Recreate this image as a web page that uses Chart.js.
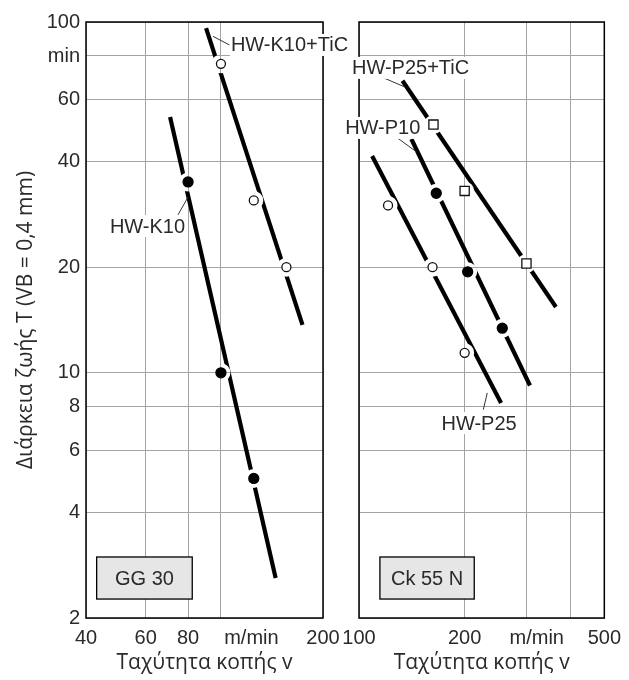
<!DOCTYPE html>
<html>
<head>
<meta charset="utf-8">
<script src="https://cdn.jsdelivr.net/npm/chart.js@4.4.0/dist/chart.umd.min.js"></script>
<style>
  body { margin: 0; background: #fff; }
  #wrap { position: relative; width: 629px; height: 680px; }
  #left { position: absolute; left: 0; top: 0; }
  #right { position: absolute; left: 330px; top: 0; }
</style>
</head>
<body>
<div id="wrap">
  <canvas id="left" width="370" height="680"></canvas>
  <canvas id="right" width="299" height="680"></canvas>
</div>
<script>
// Tool life T against cutting speed v, log-log, two materials

const yTicks = [2, 4, 6, 8, 10, 20, 40, 60, 80, 100];
const yLabels = ['2', '4', '6', '8', '10', '20', '40', '60', 'min', '100'];

const ggTicks = [40, 60, 80, 100, 123, 200];
const ggLabels = ['40', '60', '80', '', 'm/min', '200'];
const ckTicks = [100, 200, 300, 321, 400, 500];
const ckLabels = ['100', '200', '', 'm/min', '', '500'];

// GG 30
const k10V = [80, 100, 125];
const k10T = [35, 10, 5];
const k10LineV = [70.8, 145];
const k10LineT = [53.6, 2.6];

const k10TicV = [100, 125, 156];
const k10TicT = [76, 31, 20];
const k10TicLineV = [90.4, 174];
const k10TicLineT = [96, 13.7];

// Ck 55 N
const p25TicV = [163, 200, 300];
const p25TicT = [51, 33, 20.5];
const p25TicLineV = [133, 364];
const p25TicLineT = [68, 15.4];

const p10V = [166, 204, 256];
const p10T = [32.5, 19.4, 13.4];
const p10LineV = [141, 307];
const p10LineT = [46.4, 9.2];

const p25V = [121, 162, 200];
const p25T = [30, 20, 11.4];
const p25LineV = [109, 254];
const p25LineT = [41.5, 8.2];

const tickFont = { family: 'Liberation Sans, Arial, sans-serif', size: 20 };
const titleFont = { family: 'Open Sans, sans-serif', size: 21 };
const textColor = '#2a2a2a';

function pts(xs, ys) {
  return xs.map(function (x, i) { return { x: x, y: ys[i] }; });
}

function lineSet(xs, ys, gapSet) {
  return {
    data: pts(xs, ys), showLine: true, borderColor: '#000', borderWidth: 4.2,
    pointRadius: 0, borderCapStyle: 'butt', order: 2, gapSet: gapSet
  };
}

function markSet(xs, ys, kind) {
  var ds = { data: pts(xs, ys), showLine: false, order: 0, borderColor: '#111', borderWidth: 1.3 };
  if (kind === 'full') {
    ds.pointRadius = 5; ds.backgroundColor = '#000'; ds.borderColor = '#000';
  } else if (kind === 'square') {
    ds.pointRadius = 6.5; ds.pointStyle = 'rect'; ds.backgroundColor = '#fff';
  } else {
    ds.pointRadius = 4.5; ds.backgroundColor = '#fff';
  }
  return ds;
}

// line breaks round the markers
var gapsPlugin = {
  id: 'gaps',
  beforeDatasetDraw: function (chart, args) {
    var ds = chart.data.datasets[args.index];
    if (ds.gapSet == null) return;
    var ctx = chart.ctx;
    var r = 9.5;
    ctx.save();
    ctx.beginPath();
    ctx.rect(0, 0, chart.width, chart.height);
    chart.getDatasetMeta(ds.gapSet).data.forEach(function (p) {
      ctx.moveTo(p.x + r, p.y);
      ctx.arc(p.x, p.y, r, 0, Math.PI * 2);
    });
    ctx.clip('evenodd');
  },
  afterDatasetDraw: function (chart, args) {
    var ds = chart.data.datasets[args.index];
    if (ds.gapSet == null) return;
    chart.ctx.restore();
  }
};

var notesPlugin = {
  id: 'notes',
  afterDraw: function (chart, args, opts) {
    var ctx = chart.ctx, a = chart.chartArea;
    var sx = chart.scales.x, sy = chart.scales.y;
    ctx.save();
    // frame
    ctx.strokeStyle = '#000';
    ctx.lineWidth = 1.5;
    ctx.strokeRect(a.left, a.top, a.right - a.left, a.bottom - a.top);
    ctx.font = tickFont.size + 'px ' + tickFont.family;
    ctx.textBaseline = 'middle';
    // material box
    var b = opts.box;
    var x1 = sx.getPixelForValue(b.v1), x2 = sx.getPixelForValue(b.v2);
    var y1 = sy.getPixelForValue(b.t1), y2 = sy.getPixelForValue(b.t2);
    ctx.fillStyle = '#e6e6e6';
    ctx.fillRect(x1, y1, x2 - x1, y2 - y1);
    ctx.lineWidth = 1.3;
    ctx.strokeRect(x1, y1, x2 - x1, y2 - y1);
    ctx.fillStyle = textColor;
    ctx.textAlign = 'center';
    ctx.fillText(b.text, (x1 + x2) / 2, (y1 + y2) / 2 + 1);
    // leaders
    ctx.strokeStyle = '#333';
    ctx.lineWidth = 1;
    opts.leaders.forEach(function (l) {
      ctx.beginPath();
      ctx.moveTo(sx.getPixelForValue(l[0]), sy.getPixelForValue(l[1]));
      ctx.lineTo(sx.getPixelForValue(l[2]), sy.getPixelForValue(l[3]));
      ctx.stroke();
    });
    // curve names
    opts.labels.forEach(function (l) {
      var x = sx.getPixelForValue(l.v), y = sy.getPixelForValue(l.t);
      var w = ctx.measureText(l.text).width;
      var left = l.align === 'right' ? x - w : x;
      ctx.fillStyle = '#fff';
      ctx.fillRect(left - 1, y - 11, w + 2, 22);
      ctx.fillStyle = textColor;
      ctx.textAlign = 'left';
      ctx.fillText(l.text, left, y + 1);
    });
    ctx.restore();
  }
};

function gridColor(labels) {
  return function (c) {
    return labels[c.index] === 'm/min' ? 'rgba(0,0,0,0)' : '#a3a3a3';
  };
}

function makeChart(id, datasets, xTicks, xLabels, xMin, xMax, withY, pad, yWidth, notes) {
  return new Chart(document.getElementById(id), {
    type: 'scatter',
    data: { datasets: datasets },
    plugins: [gapsPlugin, notesPlugin],
    options: {
      responsive: false,
      animation: false,
      devicePixelRatio: 1,
      layout: { padding: pad },
      plugins: { legend: { display: false }, tooltip: { enabled: false }, notes: notes },
      scales: {
        x: {
          type: 'logarithmic', min: xMin, max: xMax,
          afterBuildTicks: function (s) { s.ticks = xTicks.map(function (v) { return { value: v }; }); },
          afterFit: function (s) { s.height = 62; },
          grid: { color: gridColor(xLabels), drawTicks: false, lineWidth: 1 },
          border: { display: false },
          ticks: {
            autoSkip: false, maxRotation: 0, minRotation: 0, padding: 8,
            font: tickFont, color: textColor,
            callback: function (v, i) { return xLabels[i]; }
          },
          title: { display: true, text: 'Ταχύτητα κοπής v', font: titleFont, color: textColor, padding: { top: 0, bottom: 4 } }
        },
        y: {
          type: 'logarithmic', min: 2, max: 100,
          afterBuildTicks: function (s) { s.ticks = yTicks.map(function (v) { return { value: v }; }); },
          afterFit: function (s) { s.width = yWidth; },
          grid: { color: '#a3a3a3', drawTicks: false, lineWidth: 1 },
          border: { display: false },
          ticks: {
            display: withY, autoSkip: false, padding: 6,
            font: tickFont, color: textColor,
            callback: function (v, i) { return yLabels[i]; }
          },
          title: { display: withY, text: 'Διάρκεια ζωής T (VB = 0,4 mm)', font: titleFont, color: textColor, padding: { top: 13, bottom: 0 } }
        }
      }
    }
  });
}

makeChart('left', [
  markSet(k10V, k10T, 'full'),
  markSet(k10TicV, k10TicT, 'open'),
  lineSet(k10LineV, k10LineT, 0),
  lineSet(k10TicLineV, k10TicLineT, 1)
], ggTicks, ggLabels, 40, 200, true, { top: 22, right: 47, left: 0, bottom: 0 }, 86, {
  box: { text: 'GG 30', v1: 43, v2: 82.3, t1: 2.985, t2: 2.265 },
  leaders: [[94.8, 91, 106, 86], [80, 31.7, 74.7, 28.2]],
  labels: [
    { text: 'HW-K10+TiC', v: 107, t: 86, align: 'left' },
    { text: 'HW-K10', v: 78.4, t: 26.2, align: 'right' }
  ]
});

makeChart('right', [
  markSet(p25TicV, p25TicT, 'square'),
  markSet(p10V, p10T, 'full'),
  markSet(p25V, p25T, 'open'),
  lineSet(p25TicLineV, p25TicLineT, 0),
  lineSet(p10LineV, p10LineT, 1),
  lineSet(p25LineV, p25LineT, 2)
], ckTicks, ckLabels, 100, 500, false, { top: 22, right: 23, left: 0, bottom: 0 }, 29, {
  box: { text: 'Ck 55 N', v1: 114.7, v2: 213, t1: 2.985, t2: 2.265 },
  leaders: [[116, 69.7, 135, 65.3], [126.5, 47.3, 146, 42.6], [226, 7.85, 232, 8.76]],
  labels: [
    { text: 'HW-P25+TiC', v: 95.5, t: 74, align: 'left' },
    { text: 'HW-P10', v: 91.3, t: 49.9, align: 'left' },
    { text: 'HW-P25', v: 171.8, t: 7.19, align: 'left' }
  ]
});
</script>
</body>
</html>
